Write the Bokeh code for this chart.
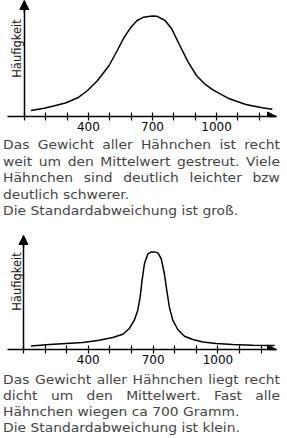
import math
from bokeh.plotting import figure
from bokeh.models import Range1d, LinearAxis, FixedTicker, Arrow, NormalHead, Label, Div
from bokeh.layouts import column
from bokeh.embed import file_html
from bokeh.resources import INLINE

# ---- data ----
tick_values = [100, 200, 300, 400, 500, 600, 700, 800, 900, 1000, 1100, 1200]
tick_labels = {400: "400", 700: "700", 1000: "1000"}
y_label = "Häufigkeit"

# broad distribution (large standard deviation)
weight_wide = [131, 193, 242, 296, 350, 396, 443, 497, 535, 566, 597, 628, 659, 689, 705,
               720, 759, 790, 828, 867, 906, 944, 983, 1060, 1137, 1214, 1261]
freq_wide = [6, 8.3, 10.7, 13.7, 18.7, 26, 36, 51, 66, 78.7, 88.7, 96, 99.3, 100.3, 100.5,
             100.3, 96, 87.7, 71, 54.3, 41, 32.7, 26.7, 17.7, 12, 8.7, 7.3]

# narrow distribution (small standard deviation)
weight_narrow = [135, 220, 297, 374, 451, 513, 560, 590, 613, 629, 640, 649, 660, 675, 691,
                 706, 722, 737, 752, 763, 775, 791, 814, 845, 884, 930, 992, 1069, 1162, 1262]
freq_narrow = [3.6, 5, 6, 7, 9.3, 12, 15.3, 21, 29.3, 39.3, 52.6, 69.3, 86, 95.3, 97.6,
               97.6, 96.6, 91, 76, 59.3, 42.6, 29.3, 20, 13.3, 10, 7.6, 6, 5, 4.3, 4]

text_wide = [
    ("Das Gewicht aller Hähnchen ist recht", True),
    ("weit um den Mittelwert gestreut. Viele", True),
    ("Hähnchen sind deutlich leichter bzw", True),
    ("deutlich schwerer.", False),
    ("Die Standardabweichung ist groß.", False),
]
text_narrow = [
    ("Das Gewicht aller Hähnchen liegt recht", True),
    ("dicht um den Mittelwert. Fast alle", True),
    ("Hähnchen wiegen ca 700 Gramm.", False),
    ("Die Standardabweichung ist klein.", False),
]


def make_chart(xs, ys, x0, x1, ytop, height, bl, bt, bb, label_x, label_y):
    p = figure(width=287, height=height, x_range=Range1d(x0, x1), y_range=Range1d(0, ytop),
               output_backend="svg", toolbar_location=None,
               x_axis_location=None, y_axis_location=None,
               min_border_left=bl, min_border_right=11, min_border_top=bt, min_border_bottom=bb)
    p.outline_line_color = None
    p.grid.visible = False
    p.background_fill_color = None
    p.border_fill_color = None

    xa = LinearAxis(ticker=FixedTicker(ticks=tick_values, minor_ticks=[]),
                    major_label_overrides={t: tick_labels.get(t, "") for t in tick_values})
    xa.axis_line_width = 1.5
    xa.axis_line_color = "black"
    xa.major_tick_in = 4
    xa.major_tick_out = 4
    xa.major_tick_line_color = "black"
    xa.major_tick_line_width = 1.2
    xa.minor_tick_line_color = None
    xa.major_label_text_font = "DejaVu Sans"
    xa.major_label_text_font_size = "12px"
    xa.major_label_text_color = "#000000"
    xa.major_label_standoff = 1
    p.add_layout(xa, "below")

    ya = LinearAxis(fixed_location=100, ticker=FixedTicker(ticks=[]))
    ya.axis_line_width = 1.5
    ya.axis_line_color = "black"
    ya.major_tick_line_color = None
    ya.minor_tick_line_color = None
    ya.major_label_text_font_size = "0px"
    p.add_layout(ya, "left")

    p.add_layout(Arrow(x_start=x1 - 40, y_start=0, x_end=x1, y_end=0, line_width=1.5,
                       end=NormalHead(size=9, fill_color="black", line_color="black")))
    p.add_layout(Arrow(x_start=100, y_start=ytop - 12, x_end=100, y_end=ytop, line_width=1.5,
                       end=NormalHead(size=9, fill_color="black", line_color="black")))

    p.add_layout(Label(x=label_x, y=label_y, text=y_label, angle=math.pi / 2,
                       text_align="center", text_baseline="middle",
                       text_font="DejaVu Sans", text_font_size="11.5px", text_color="#111111"))

    p.line(xs, ys, line_color="black", line_width=1.5)
    return p


def make_text(lines, height, lh):
    rows = []
    for s, just in lines:
        if just:
            rows.append('<div style="text-align:justify;text-align-last:justify;white-space:nowrap;">%s</div>' % s)
        else:
            rows.append('<div style="text-align:left;white-space:nowrap;">%s</div>' % s)
    html = ('<div style="margin:0 0 0 3px;width:240px;transform:scaleX(1.154);transform-origin:0 0;'
            'font-family:\'DejaVu Sans\';font-size:12px;line-height:%spx;color:#444444;">%s</div>'
            % (lh, "".join(rows)))
    return Div(text=html, width=287, height=height, margin=(0, 0, 0, 0))


p1 = make_chart(weight_wide, freq_wide, 21.3, 1280.6, 116, 137, 4, 0, 21, 65, 68)
d1 = make_text(text_wide, 83, 16.5)
p2 = make_chart(weight_narrow, freq_narrow, 26, 1271, 114, 152, 7, 15, 23, 69, 68)
d2 = make_text(text_narrow, 66, 16.1)

layout = column(p1, d1, p2, d2, spacing=0)
open("out.html", "w").write(file_html(layout, INLINE))
